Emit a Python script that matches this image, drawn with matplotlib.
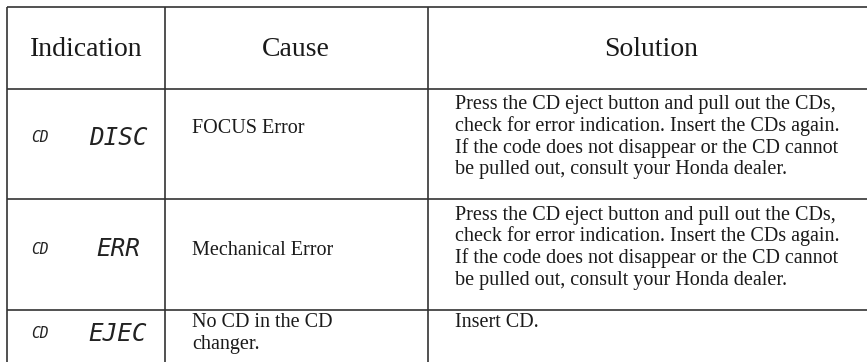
import matplotlib
matplotlib.use("Agg")
import matplotlib.pyplot as plt

# ---- data ----
headers = ["Indication", "Cause", "Solution"]
lcd_small = ["CD", "CD", "CD"]
lcd_codes = ["DISC", "ERR", "EJEC"]
causes = [["FOCUS Error"], ["Mechanical Error"], ["No CD in the CD", "changer."]]
solution_long = [
    "Press the CD eject button and pull out the CDs,",
    "check for error indication. Insert the CDs again.",
    "If the code does not disappear or the CD cannot",
    "be pulled out, consult your Honda dealer.",
]
solutions = [solution_long, solution_long, ["Insert CD."]]

# ---- layout (pixel coordinates) ----
W, H = 867, 362
col_edges = [7, 165, 428]
row_edges = [7, 89, 199, 310]
line_color = "#333333"
serif = "Liberation Serif"
leading = 21.5

fig = plt.figure(figsize=(W / 100, H / 100), dpi=100)
ax = fig.add_axes([0, 0, 1, 1])
ax.set_xlim(0, W)
ax.set_ylim(H, 0)
ax.axis("off")

lw = 1.2
for y in row_edges:
    ax.plot([col_edges[0], W], [y, y], color=line_color, lw=lw, solid_capstyle="butt")
for x in col_edges:
    ax.plot([x, x], [row_edges[0], H], color=line_color, lw=lw, solid_capstyle="butt")

# headers
header_cx = [86, 296, 651]
for h, cx in zip(headers, header_cx):
    ax.text(cx, 49, h, ha="center", va="center", fontsize=20,
            family=serif, color="#1a1a1a")

# indication LCD codes
ind_cy = [138, 249, 334]
for s, c, cy in zip(lcd_small, lcd_codes, ind_cy):
    ax.text(40, cy, s, ha="center", va="center", fontsize=10.5,
            family="DejaVu Sans Mono", style="oblique", color="#222222")
    ax.text(118, cy, c, ha="center", va="center", fontsize=17.5,
            family="DejaVu Sans Mono", style="oblique", color="#222222")

# cause texts (baselines)
cause_base = [133, 255, 327]
for lines, yb in zip(causes, cause_base):
    for i, t in enumerate(lines):
        ax.text(192, yb + i * leading, t, ha="left", va="baseline", fontsize=14.5,
                family=serif, color="#1a1a1a")

# solutions (baselines)
sol_base = [109.5, 220, 327]
for lines, yb in zip(solutions, sol_base):
    for i, t in enumerate(lines):
        ax.text(455, yb + i * leading, t, ha="left", va="baseline", fontsize=14.5,
                family=serif, color="#1a1a1a")

fig.savefig("out.png", dpi=100, facecolor="white")
